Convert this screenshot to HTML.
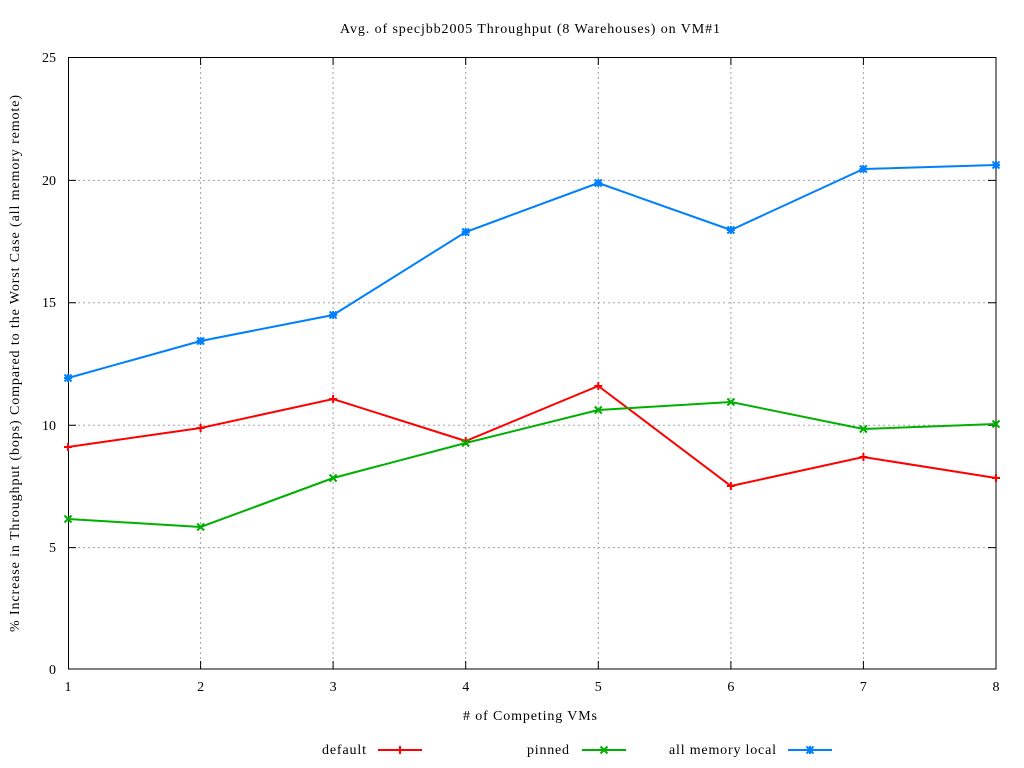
<!DOCTYPE html><html><head><style>body{margin:0;background:#fff}svg{display:block}text{font-family:"Liberation Serif",serif;font-size:14px;fill:#000}</style></head><body>
<svg width="1024" height="768" xmlns="http://www.w3.org/2000/svg">
<defs>
<g id="plus"><path d="M-4,0H4M0,-4V4" stroke-width="2"/></g>
<g id="cross"><path d="M-3.5,-3.5L3.5,3.5M-3.5,3.5L3.5,-3.5" stroke-width="2"/></g>
<g id="star"><path d="M-4,0H4M0,-4V4M-3.5,-3.5L3.5,3.5M-3.5,3.5L3.5,-3.5" stroke-width="2"/></g>
</defs>
<g stroke="#a0a0a0" stroke-width="1" stroke-dasharray="2,3">
<path d="M68,547.6H996M68,425.2H996M68,302.8H996M68,180.4H996"/>
<path d="M200.6,57V669M333.1,57V669M465.7,57V669M598.3,57V669M730.9,57V669M863.4,57V669"/>
</g>
<rect x="68.5" y="57.5" width="927.5" height="611.5" fill="none" stroke="#000"/>
<g stroke="#000">
<path d="M68,547.6h8M68,425.2h8M68,302.8h8M68,180.4h8M996,547.6h-8M996,425.2h-8M996,302.8h-8M996,180.4h-8"/>
<path d="M200.6,669v-8M333.1,669v-8M465.7,669v-8M598.3,669v-8M730.9,669v-8M863.4,669v-8M200.6,57v8M333.1,57v8M465.7,57v8M598.3,57v8M730.9,57v8M863.4,57v8"/>
</g>
<g text-anchor="end">
<text x="56" y="674">0</text><text x="56" y="552">5</text><text x="56" y="430">10</text><text x="56" y="307">15</text><text x="56" y="185">20</text><text x="56" y="62">25</text>
</g>
<g text-anchor="middle">
<text x="68" y="691">1</text><text x="200.6" y="691">2</text><text x="333.1" y="691">3</text><text x="465.7" y="691">4</text><text x="598.3" y="691">5</text><text x="730.9" y="691">6</text><text x="863.4" y="691">7</text><text x="996" y="691">8</text>
</g>
<text x="340" y="33" textLength="380" lengthAdjust="spacing">Avg. of specjbb2005 Throughput (8 Warehouses) on VM#1</text>
<text x="463" y="720" textLength="134" lengthAdjust="spacing"># of Competing VMs</text>
<text transform="translate(19,632) rotate(-90)" textLength="537" lengthAdjust="spacing">% Increase in Throughput (bops) Compared to the Worst Case (all memory remote)</text>
<g fill="none" stroke-width="2">
<polyline stroke="#ff0000" points="68,447 200.6,428 333.1,399 465.7,441 598.3,386 730.9,486 863.4,457 996,478"/>
<polyline stroke="#00b000" points="68,519 200.6,527 333.1,478 465.7,443 598.3,410 730.9,402 863.4,429 996,424"/>
<polyline stroke="#0080ff" points="68,378 200.6,341 333.1,315 465.7,232 598.3,183 730.9,230 863.4,169 996,165"/>
</g>
<g stroke="#ff0000"><use href="#plus" x="68" y="447"/><use href="#plus" x="200.6" y="428"/><use href="#plus" x="333.1" y="399"/><use href="#plus" x="465.7" y="441"/><use href="#plus" x="598.3" y="386"/><use href="#plus" x="730.9" y="486"/><use href="#plus" x="863.4" y="457"/><use href="#plus" x="996" y="478"/></g>
<g stroke="#00b000"><use href="#cross" x="68" y="519"/><use href="#cross" x="200.6" y="527"/><use href="#cross" x="333.1" y="478"/><use href="#cross" x="465.7" y="443"/><use href="#cross" x="598.3" y="410"/><use href="#cross" x="730.9" y="402"/><use href="#cross" x="863.4" y="429"/><use href="#cross" x="996" y="424"/></g>
<g stroke="#0080ff"><use href="#star" x="68" y="378"/><use href="#star" x="200.6" y="341"/><use href="#star" x="333.1" y="315"/><use href="#star" x="465.7" y="232"/><use href="#star" x="598.3" y="183"/><use href="#star" x="730.9" y="230"/><use href="#star" x="863.4" y="169"/><use href="#star" x="996" y="165"/></g>
<text x="322" y="754" textLength="44" lengthAdjust="spacing">default</text>
<text x="527" y="754" textLength="42" lengthAdjust="spacing">pinned</text>
<text x="669" y="754" textLength="107" lengthAdjust="spacing">all memory local</text>
<path d="M378,750H422" stroke="#ff0000" stroke-width="2"/><use href="#plus" x="400" y="750" stroke="#ff0000"/>
<path d="M582,750H626" stroke="#00b000" stroke-width="2"/><use href="#cross" x="604" y="750" stroke="#00b000"/>
<path d="M788,750H832" stroke="#0080ff" stroke-width="2"/><use href="#star" x="810" y="750" stroke="#0080ff"/>
</svg>
</body></html>
